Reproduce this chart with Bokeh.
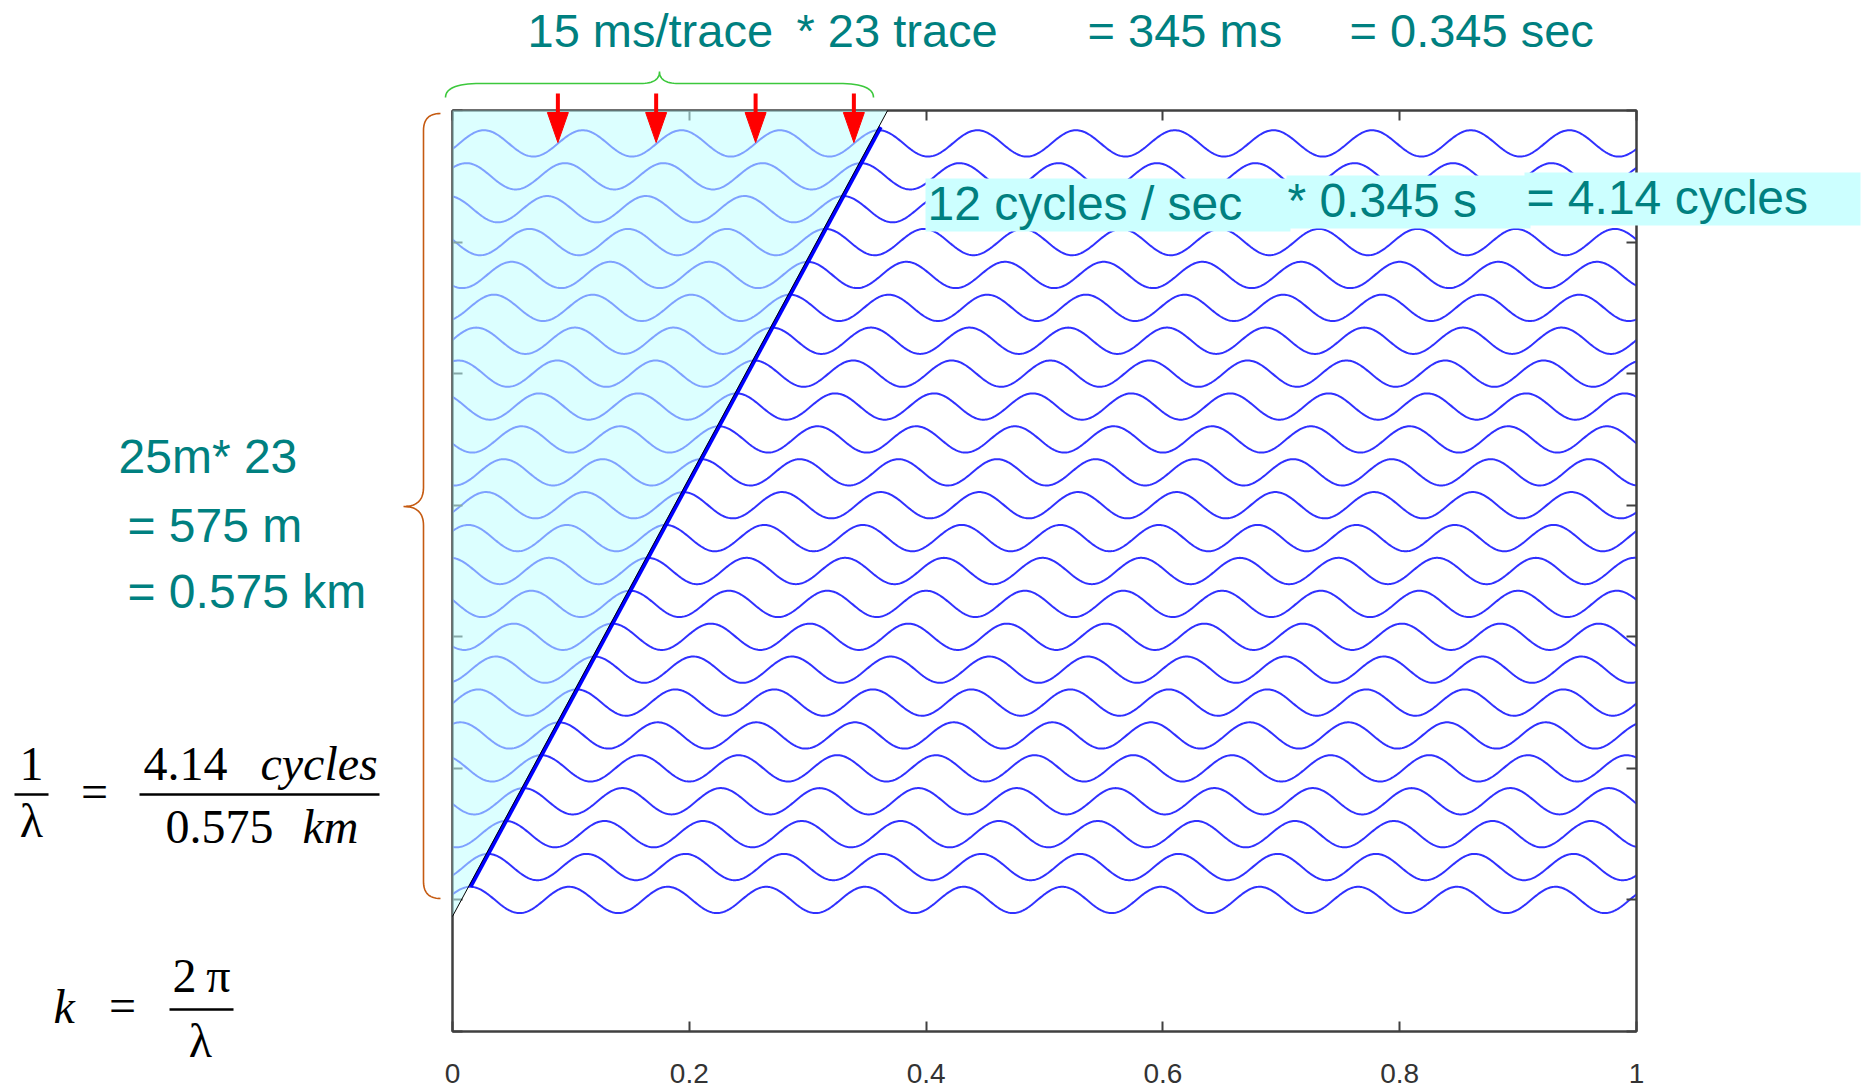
import numpy as np
from bokeh.plotting import figure
from bokeh.models import Range1d, LinearAxis, FixedTicker, Label
from bokeh.embed import file_html
from bokeh.resources import INLINE

# ---------------- data ----------------
freq_hz = 12.0                 # 12 cycles / sec
delay_s_per_trace = 0.015      # 15 ms / trace
n_traces = 24                  # traces 0..23
amplitude = 0.4                # trace amplitude (trace-spacing units)
onset_offset = 0.5             # moveout line meets x = 0 half a trace below trace 0
thick_line_y = [0.4, 23.5]     # extent of the heavy moveout line (trace units)
arrow_times = [0.089, 0.172, 0.256, 0.339]   # red arrows (rising zero-crossings of top trace)
x_ticks = [0, 0.2, 0.4, 0.6, 0.8, 1]
x_tick_labels = ["0", "0.2", "0.4", "0.6", "0.8", "1"]
y_ticks = [-4, 0, 4, 8, 12, 16, 20, 24]
x_lo, x_hi = 0.0, 1.0
y_lo, y_hi = -4.0, 24.0

time_s = np.linspace(0.0, 1.0, 1001)
trace_xs = [time_s for i in range(n_traces)]
trace_ys = [i + amplitude * np.cos(2 * np.pi * freq_hz * (time_s - delay_s_per_trace * (i + 1)))
            for i in range(n_traces)]

# ---------------- layout ----------------
W, H = 1865, 1090
FX0, FW = 452.0, 1184.0     # frame left / width (px)
FY0, FH = 110.0, 921.0      # frame top / height (px)
TEXT_DY = -17               # baseline correction for labels (px)


def X(px):
    return x_lo + (px - FX0) / FW * (x_hi - x_lo)


def Y(py):
    return y_hi - (py - FY0) / FH * (y_hi - y_lo)


AX = "#404040"
TEAL = "#008080"

# ---------------- base figure: traces + axes ----------------
base = figure(width=W, height=H, x_range=Range1d(x_lo, x_hi), y_range=Range1d(y_lo, y_hi),
              output_backend="svg", toolbar_location=None,
              min_border_left=int(FX0), min_border_right=int(W - FX0 - FW),
              min_border_top=int(FY0), min_border_bottom=int(H - FY0 - FH),
              background_fill_color="white", border_fill_color="white")
base.title.visible = False
base.grid.visible = False
base.outline_line_color = AX
base.outline_line_width = 2


def style_axis(ax, ticks, labels=None):
    ax.ticker = FixedTicker(ticks=ticks)
    ax.axis_line_color = AX
    ax.axis_line_width = 2
    ax.major_tick_in = 10
    ax.major_tick_out = 0
    ax.major_tick_line_color = AX
    ax.major_tick_line_width = 2
    ax.minor_tick_line_color = None
    if labels is not None:
        ax.major_label_overrides = {t: l for t, l in zip(ticks, labels)}
        ax.major_label_text_font = "Liberation Sans"
        ax.major_label_text_font_size = "28px"
        ax.major_label_text_color = "#333333"
        ax.major_label_standoff = 32
    else:
        ax.major_label_text_color = None


style_axis(base.xaxis[0], x_ticks, x_tick_labels)
style_axis(base.yaxis[0], y_ticks)
top_ax = LinearAxis()
style_axis(top_ax, x_ticks)
base.add_layout(top_ax, "above")
right_ax = LinearAxis()
style_axis(right_ax, y_ticks)
base.add_layout(right_ax, "right")

base.multi_line(xs=trace_xs, ys=trace_ys, line_color="#3030ff", line_width=2)

# ---------------- overlay figure: full canvas, same data mapping ----------------
ov = figure(width=W, height=H, x_range=Range1d(X(0), X(W)), y_range=Range1d(Y(H), Y(0)),
            output_backend="svg", toolbar_location=None, x_axis_type=None, y_axis_type=None,
            min_border=0, min_border_left=0, min_border_right=0, min_border_top=0,
            min_border_bottom=0, background_fill_color=None, border_fill_color=None,
            outline_line_color=None,
            styles={"position": "absolute", "left": "0px", "top": "0px"})
ov.title.visible = False
ov.grid.visible = False

# shaded (already-arrived) region
x_top = delay_s_per_trace * (y_hi + onset_offset)
ov.patch(x=[0, x_top, 0], y=[y_hi, y_hi, -onset_offset], fill_color="#c0ffff",
         fill_alpha=0.55, line_color=None)

# cyan box behind the middle formula
ov.quad(left=[X(925), X(1286), X(1524)], right=[X(1290), X(1530), X(1860)],
        top=[Y(178), Y(175), Y(172)], bottom=[Y(231), Y(228), Y(225)],
        fill_color="#ccffff", line_color=None)

# moveout lines
ty = np.array(thick_line_y)
ov.line(x=delay_s_per_trace * (ty + onset_offset) + 2.0 / FW, y=ty, line_color="#0000ff",
        line_width=4)
ov.line(x=[0, x_top], y=[-onset_offset, y_hi], line_color="black", line_width=1.0)

# red arrows
hw = 10.5 / FW
ov.segment(x0=arrow_times, y0=[Y(93)] * len(arrow_times), x1=arrow_times,
           y1=[Y(116)] * len(arrow_times), line_color="#ff0000", line_width=4)
ov.patches(xs=[[a - hw, a + hw, a] for a in arrow_times],
           ys=[[Y(112), Y(112), Y(142)] for a in arrow_times],
           fill_color="#ff0000", line_color="#ff0000")


# ---------------- braces ----------------
def qbez(p0, c, p1, n=16):
    s = np.linspace(0, 1, n)
    x = (1 - s) ** 2 * p0[0] + 2 * (1 - s) * s * c[0] + s ** 2 * p1[0]
    y = (1 - s) ** 2 * p0[1] + 2 * (1 - s) * s * c[1] + s ** 2 * p1[1]
    return list(x), list(y)


def brace(segs, color):
    xs, ys = [], []
    for sx, sy in segs:
        xs += sx
        ys += sy
    ov.line(x=[X(v) for v in xs], y=[Y(v) for v in ys], line_color=color, line_width=1.6)


L, R, M, yb, yh, yt, r1, r2 = 445, 873, 659, 97, 83, 71, 35, 19
brace([qbez((L, yb), (L, yh), (L + r1, yh)),
       qbez((M - r2, yh), (M, yh), (M, yt)),
       qbez((M, yt), (M, yh), (M + r2, yh)),
       qbez((R - r1, yh), (R, yh), (R, yb))], "#3cc83c")

xe, xl, xt, tp, bt, md, r1, r2 = 440, 423, 403, 113, 898, 506, 17, 19
brace([qbez((xe, tp), (xl, tp), (xl, tp + r1)),
       qbez((xl, md - r2), (xl, md), (xt, md)),
       qbez((xt, md), (xl, md), (xl, md + r2)),
       qbez((xl, bt - r1), (xl, bt), (xe, bt))], "#c55a11")

# fraction bars
bx0, bx1, by = [14, 139, 169], [48, 379, 233], [794, 794, 1009]
ov.segment(x0=[X(v) for v in bx0], y0=[Y(v) for v in by], x1=[X(v) for v in bx1],
           y1=[Y(v) for v in by], line_color="black", line_width=2.6)


# ---------------- texts ----------------
def label(txt, px, py, size, color=TEAL, font="Liberation Sans", style="normal", align="left"):
    ov.add_layout(Label(x=X(px), y=Y(py + TEXT_DY), text=txt, text_font=font,
                        text_font_size=f"{size}px", text_color=color, text_font_style=style,
                        text_align=align, text_baseline="alphabetic"))


label("15 ms/trace", 527, 47, 47)
label("* 23 trace", 796, 47, 47)
label("= 345 ms", 1087, 47, 47)
label("= 0.345 sec", 1349, 47, 47)

label("12 cycles / sec", 927, 220, 48)
label("* 0.345 s", 1287, 217, 48)
label("= 4.14 cycles", 1526, 214, 48)

label("25m* 23", 118, 473, 48)
label("= 575 m", 127, 542, 48)
label("= 0.575 km", 127, 608, 48)

SERIF = "Liberation Serif"
label("1", 31, 780, 48, "black", SERIF, align="center")
label("\u03bb", 31, 837, 48, "black", SERIF, align="center")
label("=", 94, 808, 48, "black", SERIF, align="center")
label("4.14", 143, 780, 48, "black", SERIF)
label("cycles", 260, 780, 48, "black", SERIF, "italic")
label("0.575", 165, 843, 48, "black", SERIF)
label("km", 302, 843, 48, "black", SERIF, "italic")

label("k", 53, 1023, 48, "black", SERIF, "italic")
label("=", 122, 1022, 48, "black", SERIF, align="center")
label("2\u2009\u03c0", 201, 992, 48, "black", SERIF, align="center")
label("\u03bb", 200, 1057, 48, "black", SERIF, align="center")

p = [base, ov]

open("out.html", "w").write(file_html(p, INLINE))
